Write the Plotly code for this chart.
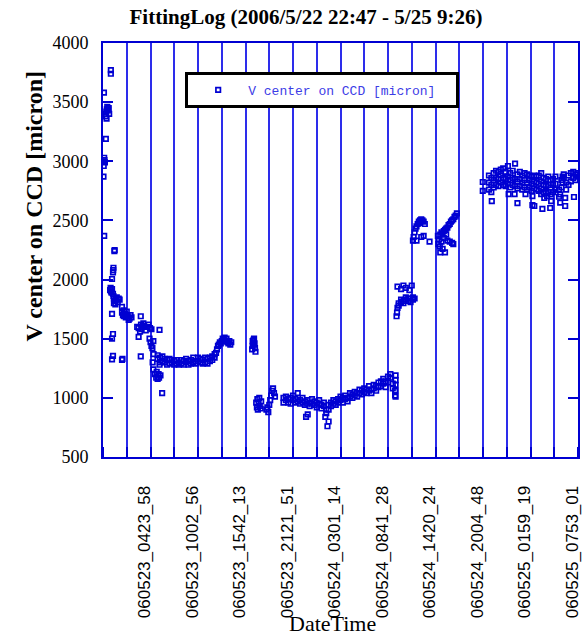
import plotly.graph_objects as go

# ---- data (sample index on x, V center [micron] on y) ----
start_idx = [2, 3, 4, 5, 6, 8, 12, 4, 10, 12, 14, 16, 18, 20, 22, 24, 26, 15, 33, 33]
start_v = [2870, 2960, 3000, 3030, 3010, 2990, 3190, 3580, 3400, 3380, 3420, 3440, 3460, 3430,
           3440, 3450, 3400, 3360, 3740, 3770]

descent_idx = [5, 48, 49, 42, 43, 44, 38, 30, 32, 34, 36, 38, 42, 44, 46, 50, 54, 58, 62, 66, 70,
               46, 52, 38, 80, 80, 84, 88, 92, 96, 100, 104, 108, 112, 116, 120, 88, 100, 159,
               144, 150, 156, 162, 168, 174, 180, 186, 192, 198, 204, 160, 170, 238, 150,
               196, 200, 204, 208, 212, 42, 38, 42, 38, 80, 82, 159, 213, 209,
               212, 218, 224, 230, 236, 242, 226, 234, 249, 238]
descent_v = [2370, 2240, 2250, 2060, 2080, 2100, 2005, 1910, 1930, 1900, 1890, 1920, 1880, 1860,
             1840, 1820, 1830, 1850, 1810, 1840, 1830, 1800, 1790, 1710, 1770, 1720, 1700, 1690,
             1710, 1680, 1700, 1690, 1660, 1670, 1700, 1680, 1740, 1730, 1690,
             1600, 1590, 1560, 1580, 1610, 1600, 1570, 1600, 1620, 1590, 1580, 1620, 1630, 1575, 1515,
             1500, 1470, 1440, 1420, 1480, 1540, 1500, 1355, 1325, 1320, 1330, 1350, 1370, 1300,
             1240, 1200, 1170, 1160, 1170, 1190, 1220, 1200, 1040, 1280]

plateau_idx = [230, 230, 240, 240, 250, 250, 260, 260, 270, 270, 280, 280, 290, 290, 300, 300,
               310, 310, 320, 320, 330, 330, 340, 340, 350, 350, 360, 360, 370, 370, 380, 380,
               390, 390, 400, 400, 410, 410, 420, 420, 430, 430, 440, 440, 450, 450, 460, 460,
               470, 470]
plateau_v = [1330, 1360, 1340, 1300, 1310, 1350, 1300, 1330, 1280, 1320, 1290, 1330, 1300, 1320,
             1280, 1310, 1290, 1320, 1300, 1280, 1290, 1320, 1310, 1280, 1300, 1330, 1280, 1310,
             1290, 1320, 1300, 1340, 1290, 1310, 1310, 1340, 1300, 1330, 1320, 1290, 1300, 1340,
             1330, 1290, 1340, 1310, 1320, 1350, 1340, 1370]

rise_idx = [476, 480, 484, 488, 492, 496, 500, 504, 508, 512, 516, 520, 524, 528, 532, 536, 540]
rise_v = [1380, 1410, 1440, 1450, 1470, 1460, 1480, 1500, 1490, 1510, 1480, 1500, 1470, 1460,
          1480, 1450, 1470]

blob_idx = [628, 630, 632, 634, 636, 638, 640, 642, 636, 630]
blob_v = [1410, 1440, 1470, 1490, 1500, 1460, 1420, 1390, 1450, 1480]

low_idx = [645, 648, 650, 652, 655, 658, 660, 664, 666, 688, 692, 696, 700, 704, 708, 712, 716,
           720, 724]
low_v = [960, 920, 990, 900, 950, 1000, 930, 910, 970, 900, 920, 880, 940, 980, 1020, 1060, 1080,
         1040, 1010]

mid_idx = [760, 760, 770, 770, 780, 780, 790, 790, 800, 800, 810, 810, 820, 820, 830, 830, 840,
           840, 850, 850, 860, 860, 870, 870, 880, 880, 890, 890, 900, 900, 910, 910, 920, 920,
           930, 930, 940, 940, 855, 862, 945, 950, 936]
mid_v = [1000, 960, 980, 1010, 960, 990, 1000, 950, 980, 1020, 960, 990, 1040, 970, 980, 950,
         1000, 960, 970, 940, 980, 950, 960, 930, 990, 950, 940, 970, 960, 920, 950, 980, 940,
         910, 930, 960, 900, 870, 840, 860, 760, 800, 840]

climb_idx = [950, 950, 960, 960, 970, 970, 980, 980, 990, 990, 1000, 1000, 1010, 1010, 1020, 1020,
             1030, 1030, 1040, 1040, 1050, 1050, 1060, 1060, 1070, 1070, 1080, 1080, 1090, 1090,
             1100, 1100, 1110, 1110, 1120, 1120, 1130, 1130, 1140, 1140, 1150, 1150, 1160, 1160,
             1170, 1170, 1180, 1180, 1190, 1190, 1200, 1200, 1210, 1210, 1220, 1220, 1230, 1230]
climb_v = [900, 940, 930, 960, 950, 980, 970, 940, 960, 990, 980, 1010, 960, 1000, 990, 1020,
           1000, 970, 1010, 1040, 1000, 1030, 1020, 1050, 1010, 1040, 1040, 1070, 1030, 1060,
           1050, 1080, 1040, 1070, 1060, 1100, 1070, 1040, 1080, 1110, 1060, 1100, 1090, 1130,
           1100, 1140, 1120, 1160, 1090, 1140, 1130, 1180, 1170, 1200, 1120, 1080, 1060, 1020]

jump_idx = [1232, 1232, 1232, 1232, 1232, 1236, 1238, 1240, 1245, 1245, 1255, 1255, 1265, 1265,
            1275, 1275, 1285, 1285, 1295, 1295, 1305, 1305, 1312, 1240, 1255, 1265, 1275, 1290, 1300]
jump_v = [1010, 1060, 1110, 1150, 1190, 1690, 1720, 1760, 1780, 1800, 1810, 1830, 1820, 1800,
          1830, 1850, 1820, 1840, 1840, 1810, 1830, 1850, 1840, 1940, 1920, 1950, 1930, 1910, 1950]

arc_idx = [1305, 1308, 1312, 1316, 1320, 1325, 1330, 1335, 1340, 1345, 1350, 1355, 1320, 1340,
           1350, 1375, 1330]
arc_v = [2330, 2360, 2400, 2430, 2450, 2470, 2490, 2500, 2510, 2500, 2490, 2470, 2330, 2360,
         2370, 2320, 2480]

ramp_idx = [1410, 1415, 1420, 1425, 1430, 1435, 1440, 1445, 1450, 1455, 1460, 1465, 1470, 1475,
            1480, 1485, 1490, 1412, 1418, 1425, 1430, 1420, 1440, 1450, 1460, 1470, 1475, 1435, 1445]
ramp_v = [2370, 2340, 2380, 2400, 2390, 2410, 2420, 2430, 2440, 2460, 2470, 2490, 2500, 2510,
          2530, 2540, 2560, 2300, 2280, 2320, 2260, 2230, 2230, 2330, 2320, 2310, 2300, 2350, 2380]

high_idx = [1599, 1599,
            1625, 1625, 1625, 1635, 1635, 1635, 1645, 1645, 1645, 1655, 1655, 1655, 1665, 1665, 1665,
            1675, 1675, 1675, 1685, 1685, 1685, 1695, 1695, 1695, 1705, 1705, 1705, 1715, 1715, 1715,
            1725, 1725, 1725, 1735, 1735, 1735, 1745, 1745, 1745, 1755, 1755, 1755, 1765, 1765, 1765,
            1775, 1775, 1775, 1785, 1785, 1785, 1795, 1795, 1795, 1805, 1805, 1805, 1815, 1815, 1815,
            1825, 1825, 1825, 1835, 1835, 1835, 1845, 1845, 1845, 1855, 1855, 1855, 1865, 1865, 1865,
            1875, 1875, 1875, 1885, 1885, 1885, 1895, 1895, 1895, 1905, 1905, 1905]
high_v = [2825, 2750,
          2760, 2820, 2880, 2740, 2800, 2860, 2780, 2840, 2900, 2800, 2860, 2920, 2790, 2850, 2910,
          2820, 2880, 2930, 2800, 2860, 2940, 2790, 2850, 2910, 2810, 2870, 2960, 2780, 2840, 2900,
          2800, 2860, 2920, 2790, 2850, 2980, 2770, 2830, 2890, 2790, 2850, 2910, 2760, 2820, 2880,
          2780, 2840, 2900, 2760, 2820, 2890, 2780, 2840, 2880, 2750, 2810, 2870, 2770, 2830, 2880,
          2760, 2820, 2870, 2750, 2810, 2880, 2770, 2830, 2900, 2740, 2800, 2860, 2730, 2790, 2850,
          2740, 2800, 2870, 2720, 2780, 2840, 2740, 2800, 2850, 2760, 2810, 2870]

stray_idx = [1637, 1708, 1733, 1745, 1779, 1808, 1808, 1816, 1850, 1845, 1858, 1870, 1883, 1887,
             1946, 1946, 1983]
stray_v = [2664, 2723, 2723, 2647, 2723, 2706, 2630, 2622, 2597, 2723, 2690, 2706, 2605, 2664,
           2690, 2622, 2698]

tail_idx = [1920, 1920, 1925, 1925, 1930, 1930, 1935, 1935, 1940, 1940, 1950, 1950, 1960, 1960,
            1970, 1970, 1980, 1980, 1990, 1990, 1998, 1998]
tail_v = [2700, 2760, 2650, 2720, 2780, 2840, 2820, 2870, 2860, 2890, 2760, 2820, 2800, 2880,
          2830, 2900, 2860, 2910, 2840, 2890, 2870, 2900]

tick_idx = [200, 400, 600, 800, 1000, 1200, 1400, 1600, 1800, 2000]
tick_labels = ["060523_0423_58", "060523_1002_56", "060523_1542_13", "060523_2121_51",
               "060524_0301_14", "060524_0841_28", "060524_1420_24", "060524_2004_48",
               "060525_0159_19", "060525_0753_01"]

segments_idx = [start_idx, descent_idx, plateau_idx, rise_idx, blob_idx, low_idx, mid_idx,
                climb_idx, jump_idx, arc_idx, ramp_idx, high_idx, stray_idx, tail_idx]
segments_v = [start_v, descent_v, plateau_v, rise_v, blob_v, low_v, mid_v,
              climb_v, jump_v, arc_v, ramp_v, high_v, stray_v, tail_v]

x_all, y_all = [], []
for a, b in zip(segments_idx, segments_v):
    x_all += a
    y_all += b

BLUE = "rgb(0,0,210)"
GRID = "rgb(45,45,235)"

fig = go.Figure()
fig.add_trace(go.Scatter(
    x=x_all, y=y_all, mode="markers", name="V center on CCD [micron]\u00a0\u00a0",
    marker=dict(symbol="square-open", size=4.5, color=BLUE, line=dict(width=1.7, color=BLUE)),
))

fig.update_layout(
    width=586, height=638,
    margin=dict(l=103, r=4, t=43, b=181),
    plot_bgcolor="white", paper_bgcolor="white",
    showlegend=True,
    legend=dict(x=0.173, y=0.93, xanchor="left", yanchor="top",
                bordercolor="black", borderwidth=3, bgcolor="white",
                itemwidth=50,
                font=dict(family="Liberation Mono", size=13, color="rgb(60,60,230)")),
    title=dict(text="<b>FittingLog (2006/5/22 22:47 - 5/25 9:26)</b>",
               x=306 / 586, xref="container", xanchor="center",
               y=1 - 17 / 638, yref="container", yanchor="middle",
               font=dict(family="Liberation Serif", size=21, color="black")),
    xaxis=dict(range=[0, 2000], tickmode="array", tickvals=tick_idx, ticktext=tick_labels,
               tickangle=-90, ticks="", showgrid=False, zeroline=False,
               showline=True, linecolor=BLUE, linewidth=2, mirror=True,
               tickfont=dict(family="Liberation Sans", size=17, color="black"),
               ticklabelstandoff=20, ticklabelshift=-6,
               minor=dict(tickmode="linear", tick0=0, dtick=100, showgrid=True,
                          gridcolor=GRID, gridwidth=1.5, ticks="inside", ticklen=10,
                          tickcolor=BLUE, tickwidth=2)),
    yaxis=dict(range=[500, 4000], tick0=500, dtick=500, ticks="inside", ticklen=10,
               tickcolor=BLUE, tickwidth=1.5, showgrid=False, zeroline=False,
               showline=True, linecolor=BLUE, linewidth=2, mirror="ticks",
               tickfont=dict(family="Liberation Serif", size=18, color="black"),
               ticklabelstandoff=9),
    annotations=[
        dict(text="<b>V center on CCD [micron]</b>", textangle=-90, showarrow=False,
             xref="paper", yref="paper", x=(33 - 103) / 479, y=(457 - 206) / 414,
             xanchor="center", yanchor="middle",
             font=dict(family="Liberation Serif", size=24, color="black")),
        dict(text="DateTime", showarrow=False, xref="paper", yref="paper",
             x=(334 - 103) / 479, y=(457 - 609) / 414, xanchor="center", yanchor="top",
             font=dict(family="Liberation Serif", size=22, color="black")),
    ],
)

fig.write_html("out.html")
